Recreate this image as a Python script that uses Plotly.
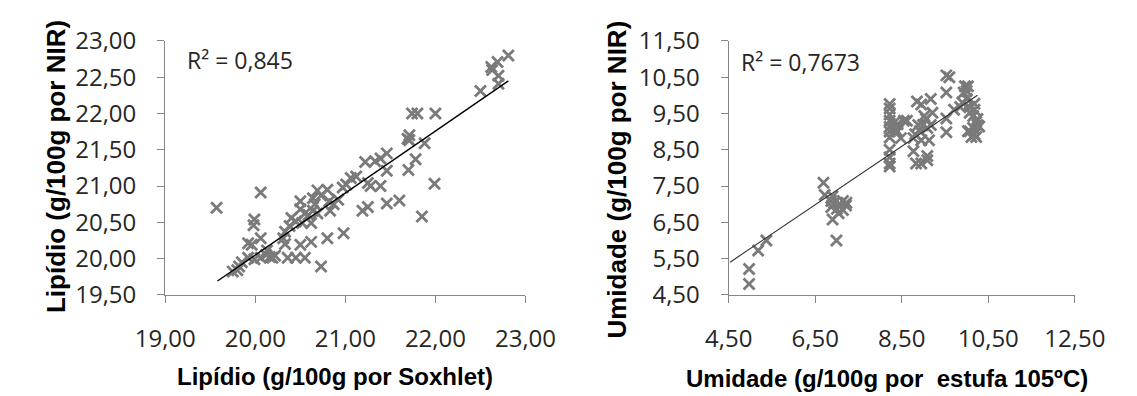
import plotly.graph_objects as go

# ---------------- data: left panel (Lipídio) ----------------
lip_soxhlet = [22.81, 22.69, 22.62, 22.63, 22.70, 22.70, 22.50, 21.74, 21.80, 22.00,
               21.71, 21.71, 21.69, 21.88, 21.78, 21.70, 21.99, 21.85, 21.60, 21.46,
               21.46, 21.46, 21.39, 21.33, 21.22, 21.39, 21.28, 21.25, 21.12, 21.06,
               21.01, 20.97, 21.25, 21.19, 20.98, 20.80, 20.62, 20.50, 20.73, 20.55,
               20.45, 20.36, 20.19, 20.06, 19.99, 19.92, 19.85, 19.82, 19.75, 19.80,
               19.57, 20.06, 19.99, 19.98, 19.92, 19.96, 20.06, 20.13, 20.12, 20.31,
               20.33, 20.40, 20.45, 20.50, 20.50, 20.55, 20.64, 20.69, 20.64, 20.73,
               20.80, 20.82, 20.87, 20.92, 20.66, 20.59, 20.69, 20.83, 20.62, 20.52,
               20.38, 20.33, 20.16, 20.22]
lip_nir = [22.80, 22.71, 22.64, 22.60, 22.52, 22.41, 22.31, 22.00, 22.00, 22.00,
           21.70, 21.63, 21.65, 21.59, 21.37, 21.22, 21.03, 20.58, 20.80, 20.76,
           21.45, 21.21, 21.38, 21.34, 21.33, 21.00, 21.00, 21.04, 21.13, 21.11,
           21.02, 20.98, 20.71, 20.66, 20.35, 20.28, 20.23, 20.19, 19.89, 20.01,
           20.01, 20.01, 20.01, 20.01, 19.99, 20.01, 19.95, 19.89, 19.82, 19.84,
           20.70, 20.91, 20.54, 20.46, 20.21, 20.19, 20.28, 20.11, 20.05, 20.28,
           20.20, 20.56, 20.51, 20.79, 20.68, 20.62, 20.66, 20.94, 20.83, 20.87,
           20.95, 20.79, 20.75, 20.81, 20.75, 20.60, 20.62, 20.66, 20.49, 20.49,
           20.45, 20.37, 20.02, 20.04]
lip_trend_x = [19.58, 22.81]
lip_trend_y = [19.69, 22.45]

# ---------------- data: right panel (Umidade) ----------------
umi_estufa = [4.97, 4.97, 5.18, 5.37,
              6.69, 6.72, 6.90, 6.87, 6.87, 6.90, 6.99, 7.00, 7.07, 7.14, 7.21, 7.14, 7.04, 6.94, 7.22,
              8.22, 8.22, 8.22, 8.22, 8.22, 8.22, 8.22, 8.22, 8.22, 8.22, 8.22,
              8.33, 8.33, 8.33, 8.40, 8.40, 8.55, 8.62, 8.48, 8.77, 8.77, 8.83,
              8.85, 8.95, 8.95, 9.09, 9.09, 9.17, 9.06, 8.99, 8.92, 8.95, 9.13, 9.09, 9.02,
              8.88, 9.17, 9.21, 8.81,
              9.53, 9.60, 9.53, 9.53, 9.53, 9.71,
              9.85, 9.93, 9.96, 10.00, 10.03, 10.00, 9.90, 10.07, 10.07, 10.15, 10.18,
              10.22, 10.25, 10.15, 10.07, 10.18, 10.22, 10.25, 10.29, 10.11, 10.03, 10.18]
umi_nir = [4.80, 5.21, 5.72, 6.00,
           7.59, 7.25, 7.22, 7.09, 6.92, 6.58, 6.00, 6.87, 7.00, 7.09, 6.96, 6.84, 6.75, 7.04, 7.04,
           9.76, 9.64, 9.47, 9.30, 9.13, 9.00, 8.84, 8.50, 8.29, 8.12, 8.04,
           9.25, 9.10, 9.00, 9.20, 9.00, 9.30, 9.30, 8.82, 8.82, 8.46, 8.12,
           9.83, 9.75, 8.12, 8.21, 8.33, 9.90, 9.35, 9.18, 9.01, 8.76, 8.76, 9.10, 9.43,
           9.18, 9.18, 9.52, 8.93,
           10.55, 10.50, 10.08, 9.36, 8.98, 9.60,
           9.68, 10.08, 10.25, 10.12, 10.25, 9.90, 9.80, 9.68, 9.52, 9.43, 9.60,
           9.27, 9.18, 9.10, 9.01, 8.93, 8.85, 9.35, 9.14, 8.85, 9.01, 9.77]
umi_trend_x = [4.53, 10.25]
umi_trend_y = [5.40, 10.00]

lip_ticks = [19.0, 20.0, 21.0, 22.0, 23.0]
lip_yticks = [19.5, 20.0, 20.5, 21.0, 21.5, 22.0, 22.5, 23.0]
umi_xticks = [4.5, 6.5, 8.5, 10.5, 12.5]
umi_yticks = [4.5, 5.5, 6.5, 7.5, 8.5, 9.5, 10.5, 11.5]

r2_left = "R² = 0,845"
r2_right = "R² = 0,7673"

MARK = "#7a7a7a"
AX = "#868686"
TICKFONT = dict(family="Open Sans", size=24, color="#262626")
TITLEFONT = dict(family="Liberation Sans", size=24, color="#000000")
YTITLEFONT = dict(family="Liberation Sans", size=26, color="#000000")

fig = go.Figure()
marker = dict(symbol="x-thin", size=11, line=dict(width=2.8, color=MARK), color=MARK)
fig.add_trace(go.Scatter(x=lip_soxhlet, y=lip_nir, mode="markers", marker=marker,
                         xaxis="x", yaxis="y", showlegend=False))
fig.add_trace(go.Scatter(x=lip_trend_x, y=lip_trend_y, mode="lines",
                         line=dict(color="#000000", width=1.4),
                         xaxis="x", yaxis="y", showlegend=False))
fig.add_trace(go.Scatter(x=umi_estufa, y=umi_nir, mode="markers", marker=marker,
                         xaxis="x2", yaxis="y2", showlegend=False))
fig.add_trace(go.Scatter(x=umi_trend_x, y=umi_trend_y, mode="lines",
                         line=dict(color="#303030", width=1.1),
                         xaxis="x2", yaxis="y2", showlegend=False))

W, H = 1137, 396
ydom = [1 - 302 / H, 1 - 25 / H]

def axstyle(**kw):
    d = dict(showgrid=False, zeroline=False, showline=True, linecolor=AX, linewidth=1.3,
             ticks="outside", ticklen=7, tickcolor=AX, tickwidth=1.3,
             tickfont=TICKFONT, tickformat=".2f", fixedrange=True)
    d.update(kw)
    return d

fig.update_layout(
    width=W, height=H,
    margin=dict(l=0, r=0, t=0, b=0),
    paper_bgcolor="white", plot_bgcolor="white",
    separators=",.",
    xaxis=axstyle(domain=[142 / W, 523 / W], range=[19, 23], tickvals=lip_ticks,
                  anchor="y", ticklabelstandoff=15),
    yaxis=axstyle(domain=ydom, range=[19.5, 23], tickvals=lip_yticks,
                  anchor="x", ticklabelstandoff=16),
    xaxis2=axstyle(domain=[738 / W, 1104 / W], range=[4.5, 12.5], tickvals=umi_xticks,
                   anchor="y2", ticklabelstandoff=15),
    yaxis2=axstyle(domain=ydom, range=[4.5, 11.5], tickvals=umi_yticks,
                   anchor="x2", ticklabelstandoff=16),
    annotations=[
        dict(text="<b>Lipídio (g/100g por Soxhlet)</b>", xref="paper", yref="paper",
             x=322 / W, y=1 - 391 / H, xanchor="center", yanchor="middle",
             showarrow=False, font=TITLEFONT),
        dict(text="<b>Umidade (g/100g por  estufa 105ºC)</b>", xref="paper", yref="paper",
             x=905 / W, y=1 - 393 / H, xanchor="center", yanchor="middle",
             showarrow=False, font=TITLEFONT),
        dict(text="<b>Lipídio (g/100g por NIR)</b>", xref="paper", yref="paper",
             x=26 / W, y=1 - 162 / H, xanchor="center", yanchor="middle", textangle=-90,
             showarrow=False, font=YTITLEFONT),
        dict(text="<b>Umidade (g/100g por NIR)</b>", xref="paper", yref="paper",
             x=620 / W, y=1 - 176 / H, xanchor="center", yanchor="middle", textangle=-90,
             showarrow=False, font=YTITLEFONT),
        dict(text=r2_left, xref="paper", yref="paper", x=163 / W, y=1 - 46 / H,
             xanchor="left", yanchor="middle", showarrow=False,
             font=dict(family="Open Sans", size=23, color="#262626")),
        dict(text=r2_right, xref="paper", yref="paper", x=749 / W, y=1 - 48 / H,
             xanchor="left", yanchor="middle", showarrow=False,
             font=dict(family="Open Sans", size=23, color="#262626")),
    ],
)

fig.write_html("out.html", config={"displayModeBar": False})
